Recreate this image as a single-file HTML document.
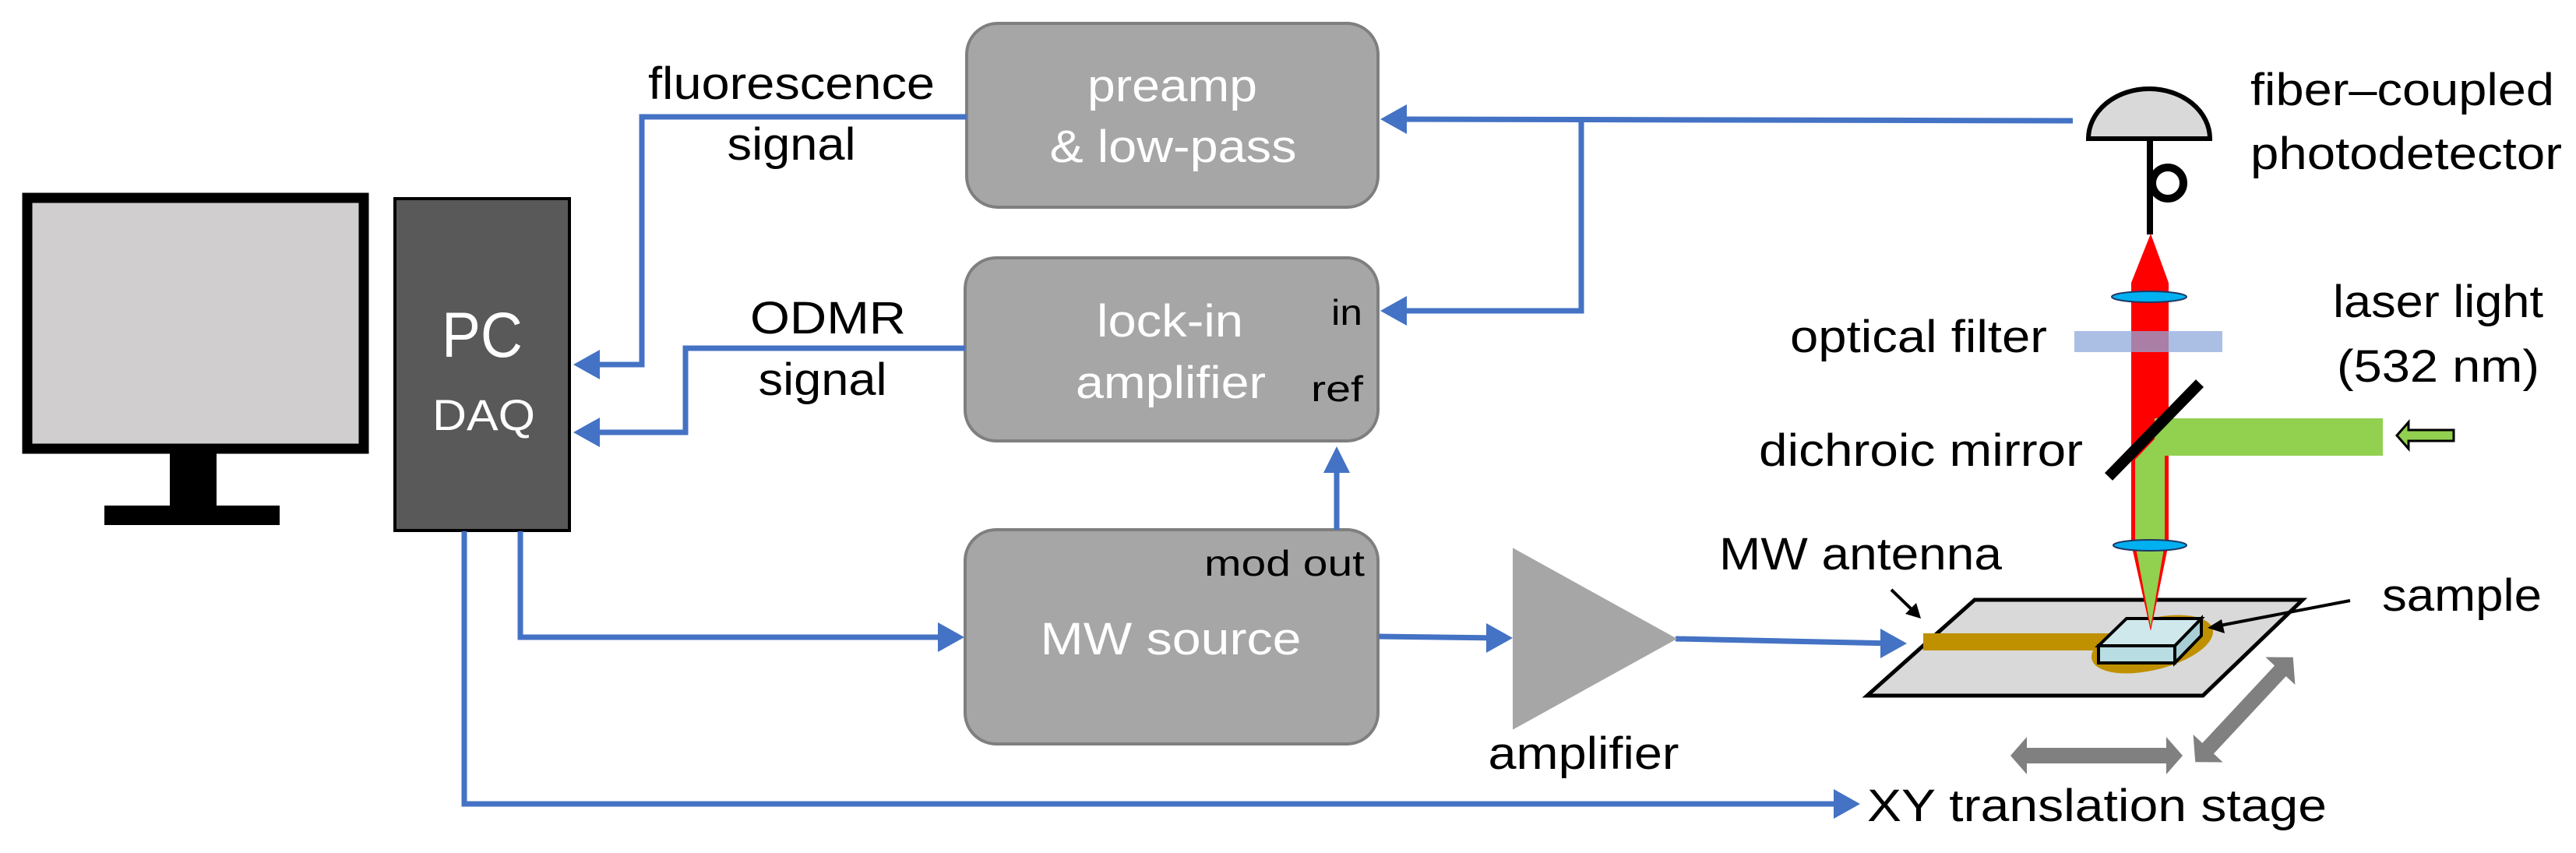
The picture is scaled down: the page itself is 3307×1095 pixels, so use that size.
<!DOCTYPE html>
<html><head><meta charset="utf-8"><style>
html,body{margin:0;padding:0;background:#fff;}
svg{display:block;}
text{font-family:"Liberation Sans",sans-serif;}
</style></head><body>
<svg width="3307" height="1095" viewBox="0 0 3307 1095" xmlns="http://www.w3.org/2000/svg">
<!-- monitor -->
<rect x="35" y="254" width="432" height="322" fill="#d0cece" stroke="#000" stroke-width="13"/>
<rect x="218" y="582" width="60" height="68" fill="#000"/>
<rect x="134" y="649" width="225" height="25" fill="#000"/>
<!-- PC -->
<rect x="507" y="255" width="224" height="426" fill="#595959" stroke="#000" stroke-width="4"/>
<text x="619" y="458" font-size="82" fill="#fff" text-anchor="middle" textLength="104" lengthAdjust="spacingAndGlyphs">PC</text>
<text x="621" y="552" font-size="56" fill="#fff" text-anchor="middle" textLength="132" lengthAdjust="spacingAndGlyphs">DAQ</text>
<!-- boxes -->
<g fill="#a6a6a6" stroke="#7f7f7f" stroke-width="4">
<rect x="1241" y="30" width="528" height="236" rx="40"/>
<rect x="1239" y="331" width="530" height="235" rx="40"/>
<rect x="1239" y="680" width="530" height="275" rx="40"/>
</g>
<g fill="#fff" font-size="58" text-anchor="middle">
<text x="1505" y="130" textLength="218" lengthAdjust="spacingAndGlyphs">preamp</text>
<text x="1506" y="208" textLength="317" lengthAdjust="spacingAndGlyphs">&amp; low-pass</text>
<text x="1502" y="432" textLength="188" lengthAdjust="spacingAndGlyphs">lock-in</text>
<text x="1503" y="511" textLength="244" lengthAdjust="spacingAndGlyphs">amplifier</text>
<text x="1503" y="840" textLength="335" lengthAdjust="spacingAndGlyphs">MW source</text>
</g>
<g fill="#000" font-size="46">
<text x="1709" y="417" textLength="40" lengthAdjust="spacingAndGlyphs">in</text>
<text x="1683" y="515" textLength="67" lengthAdjust="spacingAndGlyphs">ref</text>
<text x="1752" y="739" text-anchor="end" textLength="206" lengthAdjust="spacingAndGlyphs">mod out</text>
</g>
<g fill="#000" font-size="58">
<text x="1016" y="127" text-anchor="middle" textLength="368" lengthAdjust="spacingAndGlyphs">fluorescence</text>
<text x="1016" y="205" text-anchor="middle" textLength="165" lengthAdjust="spacingAndGlyphs">signal</text>
<text x="1063" y="428" text-anchor="middle" textLength="200" lengthAdjust="spacingAndGlyphs">ODMR</text>
<text x="1056" y="507" text-anchor="middle" textLength="165" lengthAdjust="spacingAndGlyphs">signal</text>
<text x="2889" y="135" textLength="390" lengthAdjust="spacingAndGlyphs">fiber–coupled</text>
<text x="2889" y="217" textLength="400" lengthAdjust="spacingAndGlyphs">photodetector</text>
<text x="3130" y="407" text-anchor="middle" textLength="270" lengthAdjust="spacingAndGlyphs">laser light</text>
<text x="3130" y="490" text-anchor="middle" textLength="260" lengthAdjust="spacingAndGlyphs">(532 nm)</text>
<text x="2628" y="452" text-anchor="end" textLength="330" lengthAdjust="spacingAndGlyphs">optical  filter</text>
<text x="2674" y="598" text-anchor="end" textLength="416" lengthAdjust="spacingAndGlyphs">dichroic mirror</text>
<text x="2207" y="731" textLength="363" lengthAdjust="spacingAndGlyphs">MW antenna</text>
<text x="3058" y="784" textLength="205" lengthAdjust="spacingAndGlyphs">sample</text>
<text x="2033" y="987" text-anchor="middle" textLength="245" lengthAdjust="spacingAndGlyphs">amplifier</text>
<text x="2397" y="1054" textLength="590" lengthAdjust="spacingAndGlyphs">XY translation stage</text>
</g>
<!-- connectors -->
<g fill="none" stroke="#4472c4" stroke-width="7">
<polyline points="1241,150 824,150 824,468 750,468"/>
<polyline points="1239,447 880,447 880,555 750,555"/>
<polyline points="668,682 668,818 1220,818"/>
<polyline points="596,682 596,1032 2370,1032"/>
<polyline points="1716,680 1716,590"/>
<polyline points="2661,155 1790,153"/>
<polyline points="2030,153 2030,399 1790,399"/>
<polyline points="1770,817 1925,819"/>
<polyline points="2151,820 2430,826"/>
</g>
<g fill="#4472c4">
<path d="M1772,153 l34,-19 v38 z"/><path d="M1772,399 l34,-19 v38 z"/>
<path d="M736,468 l34,-19 v38 z"/><path d="M736,555 l34,-19 v38 z"/>
<path d="M1238,818 l-34,-19 v38 z"/><path d="M2388,1032 l-34,-19 v38 z"/>
<path d="M1716,573 l-17,34 h34 z"/><path d="M1942,819 l-34,-19 v38 z"/><path d="M2448,826 l-34,-19 v38 z"/>
</g>
<!-- amplifier triangle -->
<polygon points="1943,705 1943,935 2151,820" fill="#a6a6a6" stroke="#a6a6a6" stroke-width="2"/>
<!-- stage -->
<polygon points="2535,770 2956,770 2828,893 2397,893" fill="#d9d9d9" stroke="#000" stroke-width="5"/>
<rect x="2469" y="813" width="260" height="22" fill="#bf9000"/>
<ellipse cx="2763" cy="827" rx="80" ry="33" transform="rotate(-14 2763 827)" fill="#bf9000"/>
<!-- sample -->
<polygon points="2694,829 2792,829 2792,851 2694,851" fill="#b8dde3" stroke="#000" stroke-width="4"/>
<polygon points="2792,829 2826,794 2826,816 2792,851" fill="#a9cfd6" stroke="#000" stroke-width="4"/>
<polygon points="2730,794 2826,794 2792,829 2694,829" fill="#cfe8ec" stroke="#000" stroke-width="4"/>
<!-- beams -->
<polygon points="2761,300 2784,363 2784,698 2761,810 2736,698 2736,363" fill="#ff0000"/>
<polygon points="2741,590 2779,550 2779,698 2761,805 2741,698" fill="#92d050"/>
<rect x="2766" y="537" width="293" height="48" fill="#92d050"/>
<rect x="2663" y="425" width="190" height="27" fill="#8faadc" opacity="0.75"/>
<line x1="2824" y1="492" x2="2707" y2="612" stroke="#000" stroke-width="14"/>
<ellipse cx="2759" cy="381" rx="48" ry="7" fill="#00b0f0" stroke="#1f3864" stroke-width="2"/>
<ellipse cx="2760" cy="700" rx="47" ry="7" fill="#00b0f0" stroke="#1f3864" stroke-width="2"/>
<!-- photodetector -->
<path d="M2681,178 A78,64 0 0 1 2837,178 Z" fill="#d9d9d9" stroke="#000" stroke-width="6"/>
<line x1="2760" y1="178" x2="2760" y2="301" stroke="#000" stroke-width="8"/>
<circle cx="2783" cy="235" r="20" fill="none" stroke="#000" stroke-width="10"/>
<!-- small laser arrow -->
<polygon points="3077,559 3092,542 3092,552 3150,552 3150,566 3092,566 3092,576" fill="#92d050" stroke="#000" stroke-width="3"/>
<!-- black pointer arrows -->
<line x1="2428" y1="757" x2="2458" y2="786" stroke="#000" stroke-width="4"/>
<path d="M2466,794 l-6,-20 l-14,14 z" fill="#000"/>
<line x1="3017" y1="771" x2="2850" y2="803" stroke="#000" stroke-width="4"/>
<path d="M2834,806 l18,-11 l4,18 z" fill="#000"/>
<!-- gray double arrows -->
<polygon points="2581,970 2602,946 2602,960 2781,960 2781,946 2802,970 2781,994 2781,980 2602,980 2602,994" fill="#808080"/>
<g transform="translate(2881,911) rotate(-47)">
<polygon points="-92,0 -68,-26 -68,-10 68,-10 68,-26 92,0 68,26 68,10 -68,10 -68,26" fill="#808080"/>
</g>
</svg>
</body></html>
